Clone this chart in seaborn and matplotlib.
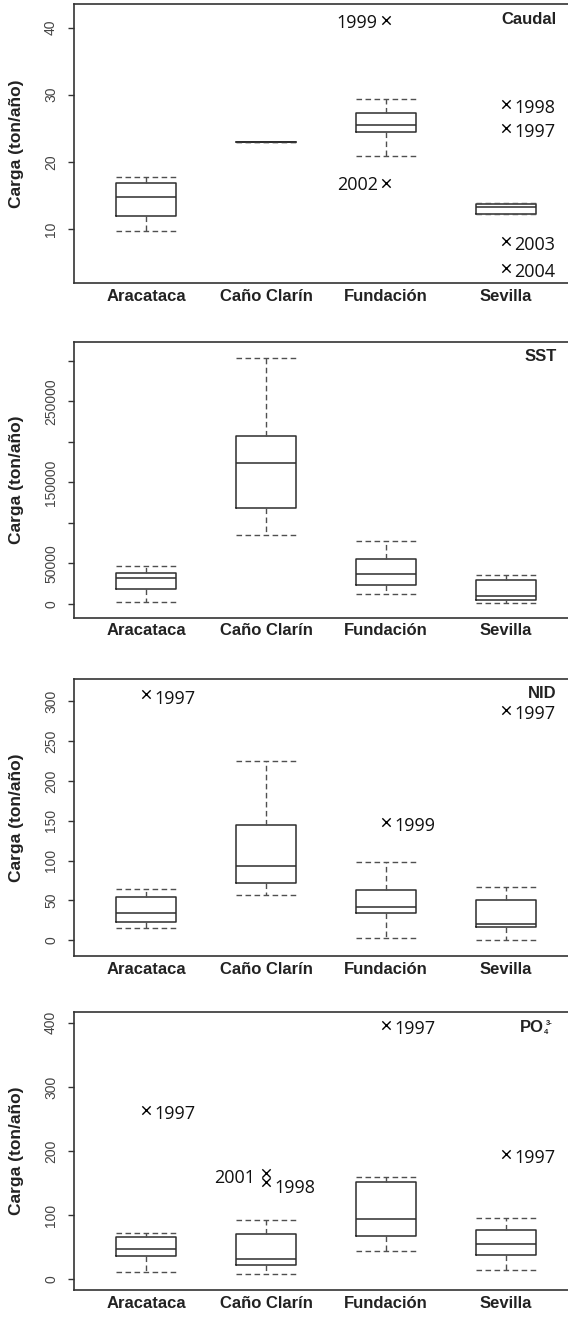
import numpy as np
import pandas as pd
import matplotlib
matplotlib.use("Agg")
import matplotlib.pyplot as plt
import seaborn as sns

# ---------------- data ----------------
sites = ["Aracataca", "Caño Clarín", "Fundación", "Sevilla"]

# five-number summaries (min, Q1, median, Q3, max) in the order of `sites`
caudal_stats = [
    [9.75, 11.9, 14.8, 16.85, 17.8],
    [22.9, 22.9, 22.9, 22.9, 22.9],
    [20.9, 24.45, 25.55, 27.35, 29.4],
    [12.2, 12.2, 13.25, 13.7, 13.85],
]
caudal_out_site = ["Fundación", "Fundación", "Sevilla", "Sevilla", "Sevilla", "Sevilla"]
caudal_out_value = [41.1, 16.9, 28.6, 25.0, 8.2, 4.2]
caudal_out_year = ["1999", "2002", "1998", "1997", "2003", "2004"]

sst_stats = [
    [2900, 18100, 31650, 38650, 46850],
    [85100, 118000, 174300, 207200, 303700],
    [12300, 23000, 37400, 55900, 77700],
    [1600, 4500, 9900, 30000, 35800],
]
sst_out_site = []
sst_out_value = []
sst_out_year = []

nid_stats = [
    [15.1, 23.4, 33.9, 54.8, 64.4],
    [56.9, 71.5, 93.7, 144.8, 224.7],
    [3.3, 34.7, 42.3, 63.6, 98.3],
    [0.4, 16.7, 20.9, 51.0, 66.9],
]
nid_out_site = ["Aracataca", "Fundación", "Sevilla"]
nid_out_value = [308.8, 148.5, 289.1]
nid_out_year = ["1997", "1999", "1997"]

po4_stats = [
    [10.4, 35.4, 47.4, 65.6, 71.9],
    [8.3, 21.4, 31.8, 69.8, 92.7],
    [43.75, 67.2, 94.3, 151.0, 158.9],
    [14.6, 37.0, 54.2, 76.0, 95.8],
]
po4_out_site = ["Aracataca", "Caño Clarín", "Caño Clarín", "Fundación", "Sevilla"]
po4_out_value = [264.0, 165.0, 152.0, 396.9, 194.8]
po4_out_year = ["1997", "2001", "1998", "1997", "1997"]

panel_names = ["Caudal", "SST", "NID", ("PO", "4", "3-")]
y_label = "Carga (ton/año)"

# ---------------- style ----------------
sns.set_style("ticks")
plt.rcParams["font.family"] = ["Liberation Sans", "DejaVu Sans"]

BOX = "#2e2e2e"
WHISK = "#505050"
dash = (0, (4, 2.5))

panels = [
    (caudal_stats, caudal_out_site, caudal_out_value, caudal_out_year,
     (1.95, 43.5), [10, 20, 30, 40], None),
    (sst_stats, sst_out_site, sst_out_value, sst_out_year,
     (-16850, 323500), [0, 50000, 100000, 150000, 200000, 250000, 300000],
     ["0", "50000", "", "150000", "", "250000", ""]),
    (nid_stats, nid_out_site, nid_out_value, nid_out_year,
     (-19.7, 328.5), [0, 50, 100, 150, 200, 250, 300], None),
    (po4_stats, po4_out_site, po4_out_value, po4_out_year,
     (-17.2, 417), [0, 100, 200, 300, 400], None),
]

# axes rectangles (figure fraction)
rects = [
    (0.1303, 0.7851, 0.8873, 0.2118),
    (0.1303, 0.5310, 0.8873, 0.2096),
    (0.1303, 0.2741, 0.8873, 0.2106),
    (0.1303, 0.0205, 0.8873, 0.2111),
]

left_labels = {(0, "1999"), (0, "2002"), (3, "2001")}

fig = plt.figure(figsize=(5.68, 13.17), dpi=100)

for i, (stats, o_site, o_val, o_year, ylim, yticks, ylabels) in enumerate(panels):
    ax = fig.add_axes(rects[i])
    df = pd.DataFrame({
        "site": np.repeat(sites, [len(s) for s in stats]),
        "value": np.concatenate(stats),
    })
    sns.boxplot(
        data=df, x="site", y="value", order=sites, ax=ax,
        whis=(0, 100), width=0.5, fill=False, color=BOX, linewidth=1.1,
        showfliers=False, capwidths=0.5,
        boxprops=dict(color=BOX),
        medianprops=dict(color=BOX, linewidth=1.1),
        whiskerprops=dict(color=WHISK, linestyle=dash, linewidth=1.0),
        capprops=dict(color=WHISK, linestyle=dash, linewidth=1.0),
    )
    if len(o_val):
        odf = pd.DataFrame({"site": o_site, "value": o_val})
        sns.stripplot(
            data=odf, x="site", y="value", order=sites, ax=ax,
            jitter=False, marker="x", color="black", size=6, linewidth=1.0,
        )
        for s, v, yr in zip(o_site, o_val, o_year):
            xi = sites.index(s)
            if (i, yr) in left_labels:
                dx, dy = (-8, -3.5) if i == 3 else (-6, -2)
                ax.annotate(yr, (xi, v), xytext=(dx, dy), textcoords="offset points",
                            ha="right", va="center", fontsize=13,
                            family="Open Sans", color="#111111")
            else:
                dy = -4.5 if (i == 3 and yr == "1998") else -3
                ax.annotate(yr, (xi, v), xytext=(6, dy), textcoords="offset points",
                            ha="left", va="center", fontsize=13,
                            family="Open Sans", color="#111111")

    ax.set_xlim(-0.6, 3.6)
    ax.set_ylim(*ylim)
    ax.set_yticks(yticks)
    if ylabels is not None:
        ax.set_yticklabels(ylabels)
    ax.set_xlabel("")
    ax.set_ylabel(y_label, fontsize=12.5, fontweight="bold", color="#222222")
    ax.yaxis.set_label_coords(-0.10, 0.5)

    ax.tick_params(axis="x", length=0, pad=4)
    ax.tick_params(axis="y", length=4.5, width=1.0, pad=7, colors="#333333",
                   labelsize=10)
    for lab in ax.get_yticklabels():
        lab.set_rotation(90)
        lab.set_va("center")
        lab.set_color("#444444")
    for lab in ax.get_xticklabels():
        lab.set_fontweight("bold")
        lab.set_fontsize(12)
        lab.set_color("#222222")

    for sp in ax.spines.values():
        sp.set_visible(True)
        sp.set_color("#333333")
        sp.set_linewidth(1.2)

    name = panel_names[i]
    if isinstance(name, str):
        ax.text(0.958, 0.946, name, transform=ax.transAxes,
                ha="right", va="center", fontsize=12, fontweight="bold",
                color="#222222")
    else:
        base, sub, sup = name
        ax.text(0.932, 0.929, base, transform=ax.transAxes,
                ha="right", va="baseline", fontsize=12, fontweight="bold",
                color="#222222")
        ax.annotate(sub, (0.932, 0.929), xycoords="axes fraction",
                    xytext=(0.3, -2.0), textcoords="offset points",
                    ha="left", va="baseline", fontsize=5.5, fontweight="bold",
                    color="#222222")
        ax.annotate(sup, (0.932, 0.929), xycoords="axes fraction",
                    xytext=(1.3, 4.6), textcoords="offset points",
                    ha="left", va="baseline", fontsize=5.5, fontweight="bold",
                    color="#222222")

fig.savefig("out.png", dpi=100, facecolor="white")
